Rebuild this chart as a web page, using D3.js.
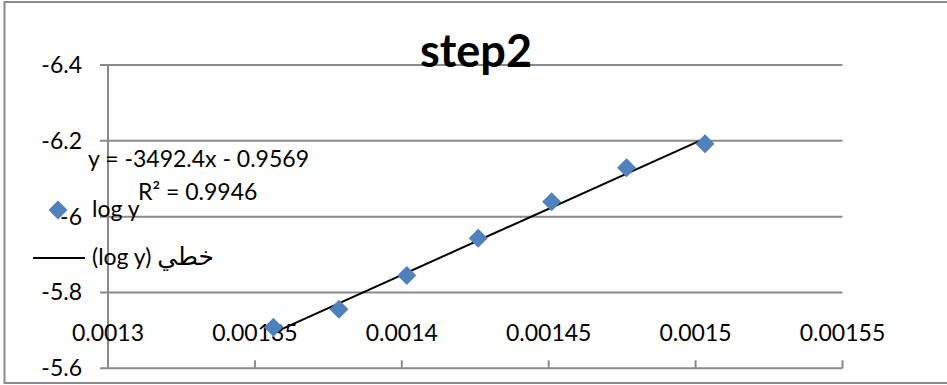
<!DOCTYPE html>
<html lang="en">
<head>
<meta charset="UTF-8">
<title>step2</title>
<style>
    body { margin: 0; background: #fff; }
    svg text { font-family: Lato, "DejaVu Sans", sans-serif; fill: #000; }
</style>
</head>
<body>
<div class="chart"></div>
<script src="https://d3js.org/d3.v7.min.js"></script>
<script>
    // data
    const xValues = [0.0013563, 0.0013786, 0.0014017, 0.0014260, 0.0014510, 0.0014765, 0.0015032]
    const logY = [-5.708, -5.756, -5.845, -5.943, -6.039, -6.129, -6.192]
    const xTicks = [0.0013, 0.00135, 0.0014, 0.00145, 0.0015, 0.00155]
    const xTickLabels = ['0.0013', '0.00135', '0.0014', '0.00145', '0.0015', '0.00155']
    const yTicks = [-6.4, -6.2, -6, -5.8, -5.6]
    const yTickLabels = ['-6.4', '-6.2', '-6', '-5.8', '-5.6']
    const trendSlope = -3492.4
    const trendIntercept = -0.9569
    const trendLabel = 'y = -3492.4x - 0.9569'
    const r2Label = 'R² = 0.9946'
    const seriesName = 'log y'
    const trendName = ['(log y) ', 'خطي']

    const W = 947, H = 385
    const grid = '#8a8a8a'
    const blue = '#4f81bd'
    const fs = 23

    const svg = d3.select('.chart').append('svg')
        .attr('width', W).attr('height', H)

    // chart border
    svg.append('rect')
        .attr('x', 4.5).attr('y', 2).attr('width', W + 10).attr('height', 381)
        .attr('fill', '#fff').attr('stroke', grid).attr('stroke-width', 2)

    const x = d3.scaleLinear().domain([0.0013, 0.00155]).range([108, 842.5])
    const y = d3.scaleLinear().domain([-6.4, -5.6]).range([65, 368.3])

    // gridlines
    svg.append('g').selectAll('line')
        .data(yTicks)
        .enter().append('line')
        .attr('x1', 100).attr('x2', x(0.00155))
        .attr('y1', d => y(d)).attr('y2', d => y(d))
        .attr('stroke', grid).attr('stroke-width', 2)

    // vertical axis line
    svg.append('line')
        .attr('x1', x(0.0013)).attr('x2', x(0.0013))
        .attr('y1', y(-6.4)).attr('y2', y(-5.6))
        .attr('stroke', grid).attr('stroke-width', 2)

    // x tick marks on the bottom line
    svg.append('g').selectAll('line')
        .data(xTicks.slice(1))
        .enter().append('line')
        .attr('x1', d => x(d)).attr('x2', d => x(d))
        .attr('y1', y(-5.6) - 8).attr('y2', y(-5.6))
        .attr('stroke', grid).attr('stroke-width', 2)

    // y labels
    svg.append('g').selectAll('text')
        .data(yTicks)
        .enter().append('text')
        .attr('x', 82).attr('y', d => y(d) + 8)
        .attr('text-anchor', 'end')
        .style('font-size', fs + 'px')
        .text((d, i) => yTickLabels[i])

    // x labels
    svg.append('g').selectAll('text')
        .data(xTicks)
        .enter().append('text')
        .attr('x', d => x(d)).attr('y', 341)
        .attr('text-anchor', 'middle')
        .style('font-size', fs + 'px')
        .text((d, i) => xTickLabels[i])

    // title
    svg.append('text')
        .attr('x', 476).attr('y', 67)
        .attr('text-anchor', 'middle')
        .style('font-size', '45px').style('font-weight', 'bold')
        .text('step2')

    // trendline
    const xMin = d3.min(xValues), xMax = d3.max(xValues)
    svg.append('line')
        .attr('x1', x(xMin)).attr('y1', y(trendSlope * xMin + trendIntercept))
        .attr('x2', x(xMax)).attr('y2', y(trendSlope * xMax + trendIntercept))
        .attr('stroke', '#000').attr('stroke-width', 2)

    // points
    const diamond = 'M0,-9.5L9.5,0L0,9.5L-9.5,0Z'
    svg.append('g').selectAll('path')
        .data(xValues)
        .enter().append('path')
        .attr('d', diamond)
        .attr('transform', (d, i) => 'translate(' + x(d) + ',' + y(logY[i]) + ')')
        .attr('fill', blue)

    // trendline labels
    svg.append('text').attr('x', 88).attr('y', 167)
        .style('font-size', fs + 'px').text(trendLabel)
    svg.append('text').attr('x', 138).attr('y', 200)
        .style('font-size', fs + 'px').text(r2Label)

    // legend
    svg.append('path').attr('d', diamond)
        .attr('transform', 'translate(58,210)').attr('fill', blue)
    svg.append('text').attr('x', 92).attr('y', 217)
        .style('font-size', fs + 'px').text(seriesName)
    svg.append('line')
        .attr('x1', 33).attr('x2', 85).attr('y1', 258).attr('y2', 258)
        .attr('stroke', '#000').attr('stroke-width', 2)
    const lt = svg.append('text').attr('x', 92).attr('y', 265)
        .attr('direction', 'ltr')
        .style('font-size', fs + 'px')
    lt.append('tspan').text(trendName[0])
    lt.append('tspan').style('font-size', '25px').text(trendName[1])
</script>
</body>
</html>
